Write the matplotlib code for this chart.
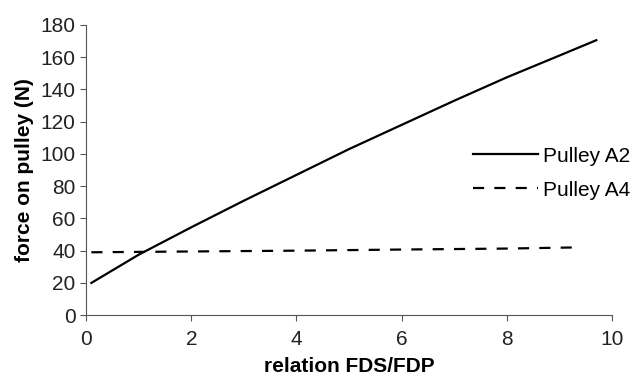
import numpy as np
import matplotlib
matplotlib.use('Agg')
import matplotlib.pyplot as plt

plt.rcParams['font.family'] = ['Liberation Sans', 'DejaVu Sans']

# Pulley A2 (solid)
a2_x = [0.1, 1.0, 2.0, 3.0, 4.0, 5.0, 6.0, 7.0, 8.0, 9.0, 9.7]
a2_y = [20, 37.5, 54.5, 71, 87, 103, 118, 133, 147.5, 161, 170.5]
# Pulley A4 (dashed)
a4_x = [0.1, 2.0, 4.0, 6.0, 8.0, 9.3]
a4_y = [39, 39.5, 40, 40.7, 41.3, 42]

fig = plt.figure(figsize=(6.33, 3.77), dpi=100)
ax = fig.add_axes([0.136, 0.164, 0.831, 0.77])

ax.plot(a2_x, a2_y, color='black', lw=1.6, label='Pulley A2')
ax.plot(a4_x, a4_y, color='black', lw=1.6, ls=(0, (5, 4.6)), label='Pulley A4')

ax.set_xlim(0, 10)
ax.set_ylim(0, 180)
ax.set_xticks(range(0, 11, 2))
ax.set_yticks(range(0, 181, 20))
ax.spines['top'].set_visible(False)
ax.spines['right'].set_visible(False)
for s in ('left', 'bottom'):
    ax.spines[s].set_color('#555555')
ax.tick_params(direction='out', length=4.5, color='#555555', labelsize=15, colors='#222222')
ax.tick_params(axis='y', pad=3)
ax.tick_params(axis='x', pad=6)

ax.set_xlabel('relation FDS/FDP', fontsize=15, fontweight='bold', labelpad=6)
ax.set_ylabel('force on pulley (N)', fontsize=15, fontweight='bold', labelpad=5)

ax.legend(loc='upper left', bbox_to_anchor=(0.736, 0.581), frameon=False,
          borderpad=0, borderaxespad=0,
          fontsize=15, handlelength=3.1, handletextpad=0.24, labelspacing=0.73)

fig.savefig('out.png', dpi=100)
